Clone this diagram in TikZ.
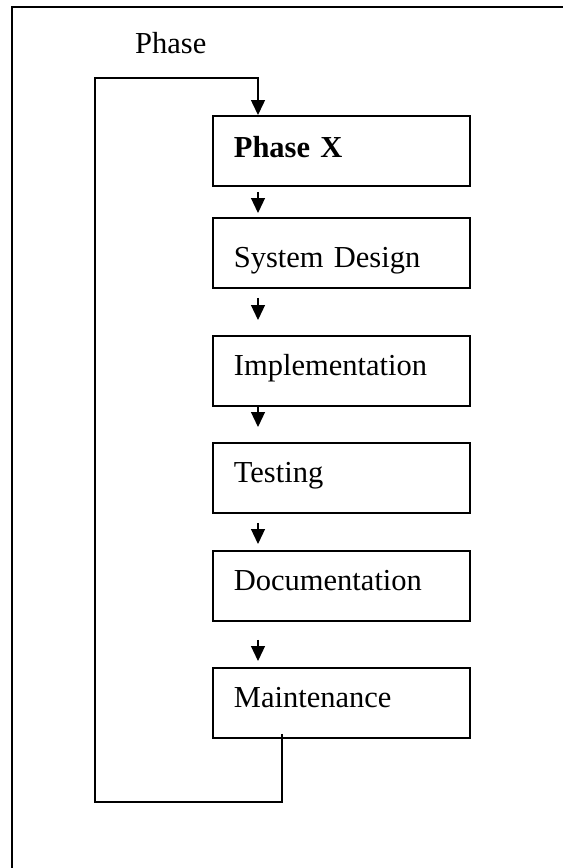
\documentclass[tikz,border=0pt]{standalone}
\usepackage{fontspec}
\setmainfont{Liberation Serif}
\usetikzlibrary{arrows.meta}
\tikzset{
  stage/.style={draw,line width=1.8pt,anchor=north west,inner xsep=21pt,inner ysep=0pt,
    text width=215pt,align=left,minimum height=70pt,text height=22pt,text depth=12pt,
    font=\fontsize{30.5}{36}\selectfont},
  flow/.style={line width=1.2pt,-{Triangle[length=15pt,width=14pt]}},
  loopback/.style={line width=1.5pt,-{Triangle[length=15pt,width=14pt]}},
}
\begin{document}
\begin{tikzpicture}[x=1pt,y=-1pt]
        \useasboundingbox (0,0) rectangle (563,868);
        \draw[line width=1.8pt] (12,868) -- (12,7) -- (563,7);
        \node[anchor=base west,inner sep=0pt,font=\fontsize{30.5}{36}\selectfont] (title) at (135,53) {Phase};
        \node[stage,text height=26pt] (px) at (212,115) {\textbf{Phase X}};
        \node[stage,text height=42pt] (sd) at (212,217) {System Design};
        \node[stage] (im) at (212,335) {Implementation};
        \node[stage] (te) at (212,442) {Testing};
        \node[stage] (dc) at (212,550) {Documentation};
        \node[stage] (mt) at (212,667) {Maintenance};
        \coordinate (lb) at (95,802);
        \draw[flow] ([xshift=46pt,yshift=-5pt]px.south west) -- ([xshift=46pt,yshift=4pt]sd.north west);
        \draw[flow] ([xshift=46pt,yshift=-9pt]sd.south west) -- ([xshift=46pt,yshift=15pt]im.north west);
        \draw[flow] ([xshift=46pt,yshift=1pt]im.south west) -- ([xshift=46pt,yshift=15pt]te.north west);
        \draw[flow] ([xshift=46pt,yshift=-9pt]te.south west) -- ([xshift=46pt,yshift=6pt]dc.north west);
        \draw[flow] ([xshift=46pt,yshift=-18pt]dc.south west) -- ([xshift=46pt,yshift=6pt]mt.north west);
        \draw[loopback] ([xshift=70pt,yshift=5pt]mt.south west) |- (lb) |- ([xshift=46pt,yshift=37pt]px.north west)
          -- ([xshift=46pt]px.north west);
      \end{tikzpicture}
\end{document}
